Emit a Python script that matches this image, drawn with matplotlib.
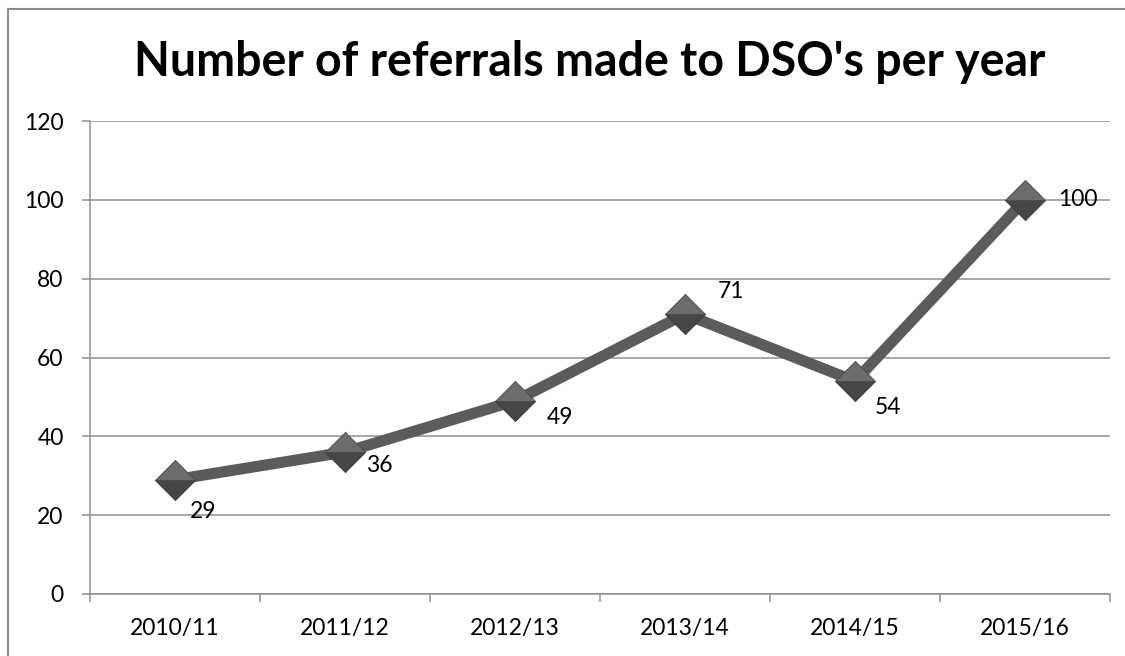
import matplotlib
matplotlib.use("Agg")
import matplotlib.pyplot as plt
from matplotlib.lines import Line2D

# referrals per financial year
years = ["2010/11", "2011/12", "2012/13", "2013/14", "2014/15", "2015/16"]
referrals = [29, 36, 49, 71, 54, 100]

plt.rcParams['font.family'] = ['Lato', 'DejaVu Sans']

fig = plt.figure(figsize=(11.25, 6.56), dpi=100)
ax = fig.add_axes([90/1125, 1 - 594/656, 1020/1125, 473/656])

x = list(range(len(years)))

# thick grey line
ax.plot(x, referrals, color="#5b5b5b", lw=8, solid_capstyle="butt", zorder=3)

# shaded diamonds: darker lower half, lighter upper half
upper = [(-1, 0), (0, 1), (1, 0), (-1, 0)]
lower = [(-1, 0), (0, -1), (1, 0), (-1, 0)]
ax.plot(x, referrals, ls="none", marker=lower, ms=29, mfc="#464646",
        mec="#3a3a3a", mew=0.6, zorder=4)
ax.plot(x, referrals, ls="none", marker=upper, ms=29, mfc="#6c6c6c",
        mec="#4a4a4a", mew=0.6, zorder=5)

# value labels, nudged off the markers
offsets = [(28, -32), (34, -13), (45, -17), (46, 23), (33, -26), (53, 0)]
for xi, v, (dx, dy) in zip(x, referrals, offsets):
    ax.annotate(str(v), (xi, v), xytext=(dx * 0.72, dy * 0.72),
                textcoords="offset points", ha="center", va="center",
                fontsize=16.5, color="black", zorder=6)

ax.set_xlim(-0.5, len(years) - 0.5)
ax.set_ylim(0, 120)
ax.set_yticks(range(0, 121, 20))
ax.yaxis.grid(True, color="#8f8f8f", lw=1.1)
ax.set_axisbelow(True)

ax.set_xticks(x)
ax.set_xticklabels(years)
ax.set_xticks([i - 0.5 for i in range(len(years) + 1)], minor=True)
ax.tick_params(axis="x", which="major", length=0, pad=17, labelsize=16.5)
ax.tick_params(axis="x", which="minor", length=6, width=1.1, color="#8f8f8f",
               direction="out")
ax.tick_params(axis="y", length=6, width=1.1, color="#8f8f8f", pad=13,
               labelsize=16.5)

for side in ["top", "right"]:
    ax.spines[side].set_visible(False)
for side in ["left", "bottom"]:
    ax.spines[side].set_color("#8f8f8f")
    ax.spines[side].set_linewidth(1.1)

fig.text(590/1125, 1 - 76/656, "Number of referrals made to DSO's per year",
         ha="center", va="baseline", fontsize=33.5, fontweight="bold")

# chart area border (left and top edges only show)
bx, by = 7.5/1125, 1 - 8.5/656
fig.add_artist(Line2D([bx, bx, 1.05], [-0.05, by, by],
                      transform=fig.transFigure, color="#8c8c8c", lw=1.5,
                      clip_on=False))

fig.savefig("out.png", dpi=100)
